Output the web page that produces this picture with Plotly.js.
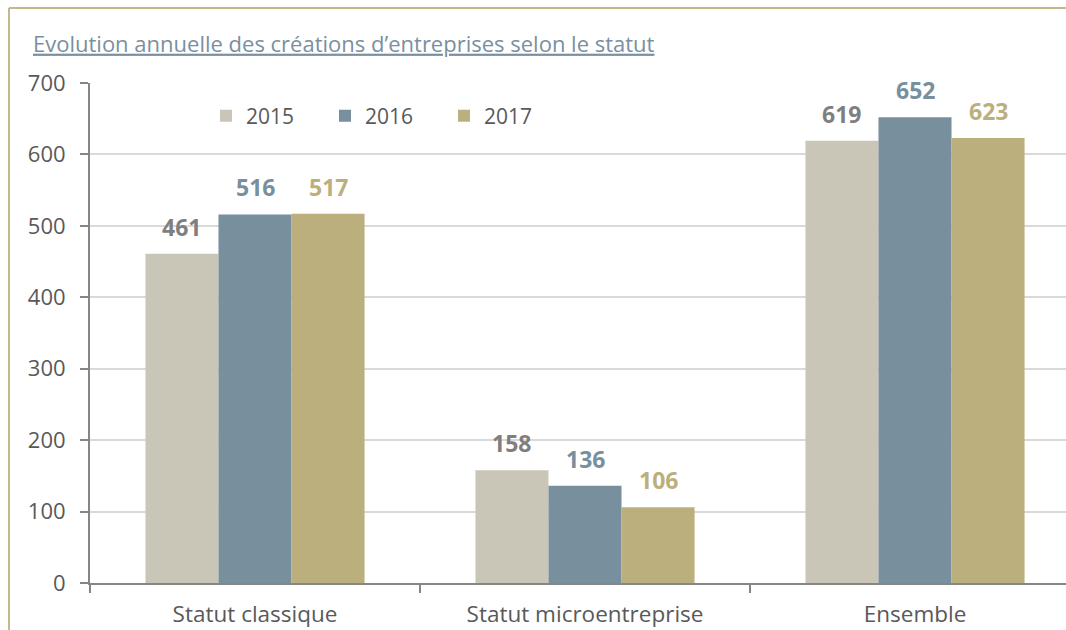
<!DOCTYPE html>
<html>
<head>
<meta charset="utf-8">
<script src="https://cdn.plot.ly/plotly-3.0.1.min.js"></script>
<style>
html,body{margin:0;padding:0;background:#fff;overflow:hidden;}
#chart{width:1066px;height:630px;}
</style>
</head>
<body>
<div id="chart"></div>
<script>
const categories = ["Statut classique", "Statut microentreprise", "Ensemble"];
const seriesNames = ["2015", "2016", "2017"];
const values2015 = [461, 158, 619];
const values2016 = [516, 136, 652];
const values2017 = [517, 106, 623];
const yTicks = [0, 100, 200, 300, 400, 500, 600, 700];

const barColors = ["#c9c6b7", "#788f9e", "#bcaf7e"];
const labelColors = ["#7f7f7f", "#788f9e", "#bcaf7e"];
const allValues = [values2015, values2016, values2017];
const FONT = "'Open Sans', sans-serif";

const traces = seriesNames.map((name, i) => ({
  type: "bar",
  name: name,
  x: categories,
  y: allValues[i],
  marker: {color: barColors[i], line: {width: 0}},
  hoverinfo: "skip"
}));

// plot area pixel geometry: x 90..1066, y 83..583
const L = 90, R = 1066, T = 83, B = 583;
const px = v => (v - L) / (R - L);
const py = v => (B - v) / (B - T);
const bargap = 0.336;
const barW = (1 - bargap) / seriesNames.length;

// value labels placed on the axes' own scales
const annotations = [];
seriesNames.forEach((name, i) => {
  allValues[i].forEach((v, j) => {
    annotations.push({
      x: j + (i - (seriesNames.length - 1) / 2) * barW,
      y: v,
      xref: "x", yref: "y",
      text: String(v),
      showarrow: false,
      xanchor: "center", yanchor: "bottom",
      yshift: 9,
      font: {family: FONT, size: 23, color: labelColors[i], weight: "bold"}
    });
  });
});

const layout = {
  width: 1066,
  height: 630,
  margin: {l: L, r: 0, t: T, b: 630 - B, pad: 0},
  paper_bgcolor: "#ffffff",
  plot_bgcolor: "#ffffff",
  font: {family: FONT, color: "#595959", size: 21},
  title: {
    text: "Evolution annuelle des créations d’entreprises selon le statut",
    font: {family: FONT, size: 22, color: "#7a8fa0", lineposition: "under"},
    x: 33 / 1066, xanchor: "left", xref: "container",
    y: 1 - 44 / 630, yanchor: "middle", yref: "container"
  },
  barmode: "group",
  bargap: bargap,
  bargroupgap: 0,
  showlegend: true,
  legend: {
    orientation: "h",
    x: px(206), xanchor: "left",
    y: py(116), yanchor: "middle",
    font: {family: FONT, size: 21, color: "#595959"},
    entrywidth: 74, entrywidthmode: "pixels",
    bgcolor: "rgba(0,0,0,0)",
    itemclick: false
  },
  xaxis: {
    type: "category",
    range: [-0.5, -0.5 + (R - L) / 330],
    showgrid: false,
    showline: true,
    linecolor: "#868686",
    linewidth: 2,
    ticks: "outside",
    tickson: "boundaries",
    ticklen: 8,
    tickwidth: 2,
    tickcolor: "#868686",
    tickfont: {family: FONT, size: 22.5, color: "#595959"},
    ticklabelstandoff: 10,
    fixedrange: true
  },
  yaxis: {
    range: [0, 700],
    tickvals: yTicks,
    ticktext: yTicks.map(String),
    showgrid: true,
    gridcolor: "#d9d9d9",
    gridwidth: 2,
    zeroline: false,
    showline: true,
    linecolor: "#868686",
    linewidth: 2,
    ticks: "outside",
    ticklen: 8,
    tickwidth: 2,
    tickcolor: "#868686",
    tickfont: {family: FONT, size: 22, color: "#595959"},
    ticklabelstandoff: 10,
    fixedrange: true
  },
  annotations: annotations,
  shapes: [
    {type: "line", xref: "paper", yref: "paper", x0: px(9), x1: px(1066), y0: py(8), y1: py(8),
     line: {color: "#c4b78c", width: 2}},
    {type: "line", xref: "paper", yref: "paper", x0: px(9), x1: px(9), y0: py(8), y1: py(640),
     line: {color: "#c4b78c", width: 2}}
  ]
};

Plotly.newPlot("chart", traces, layout, {displayModeBar: false, staticPlot: true});
</script>
</body>
</html>
